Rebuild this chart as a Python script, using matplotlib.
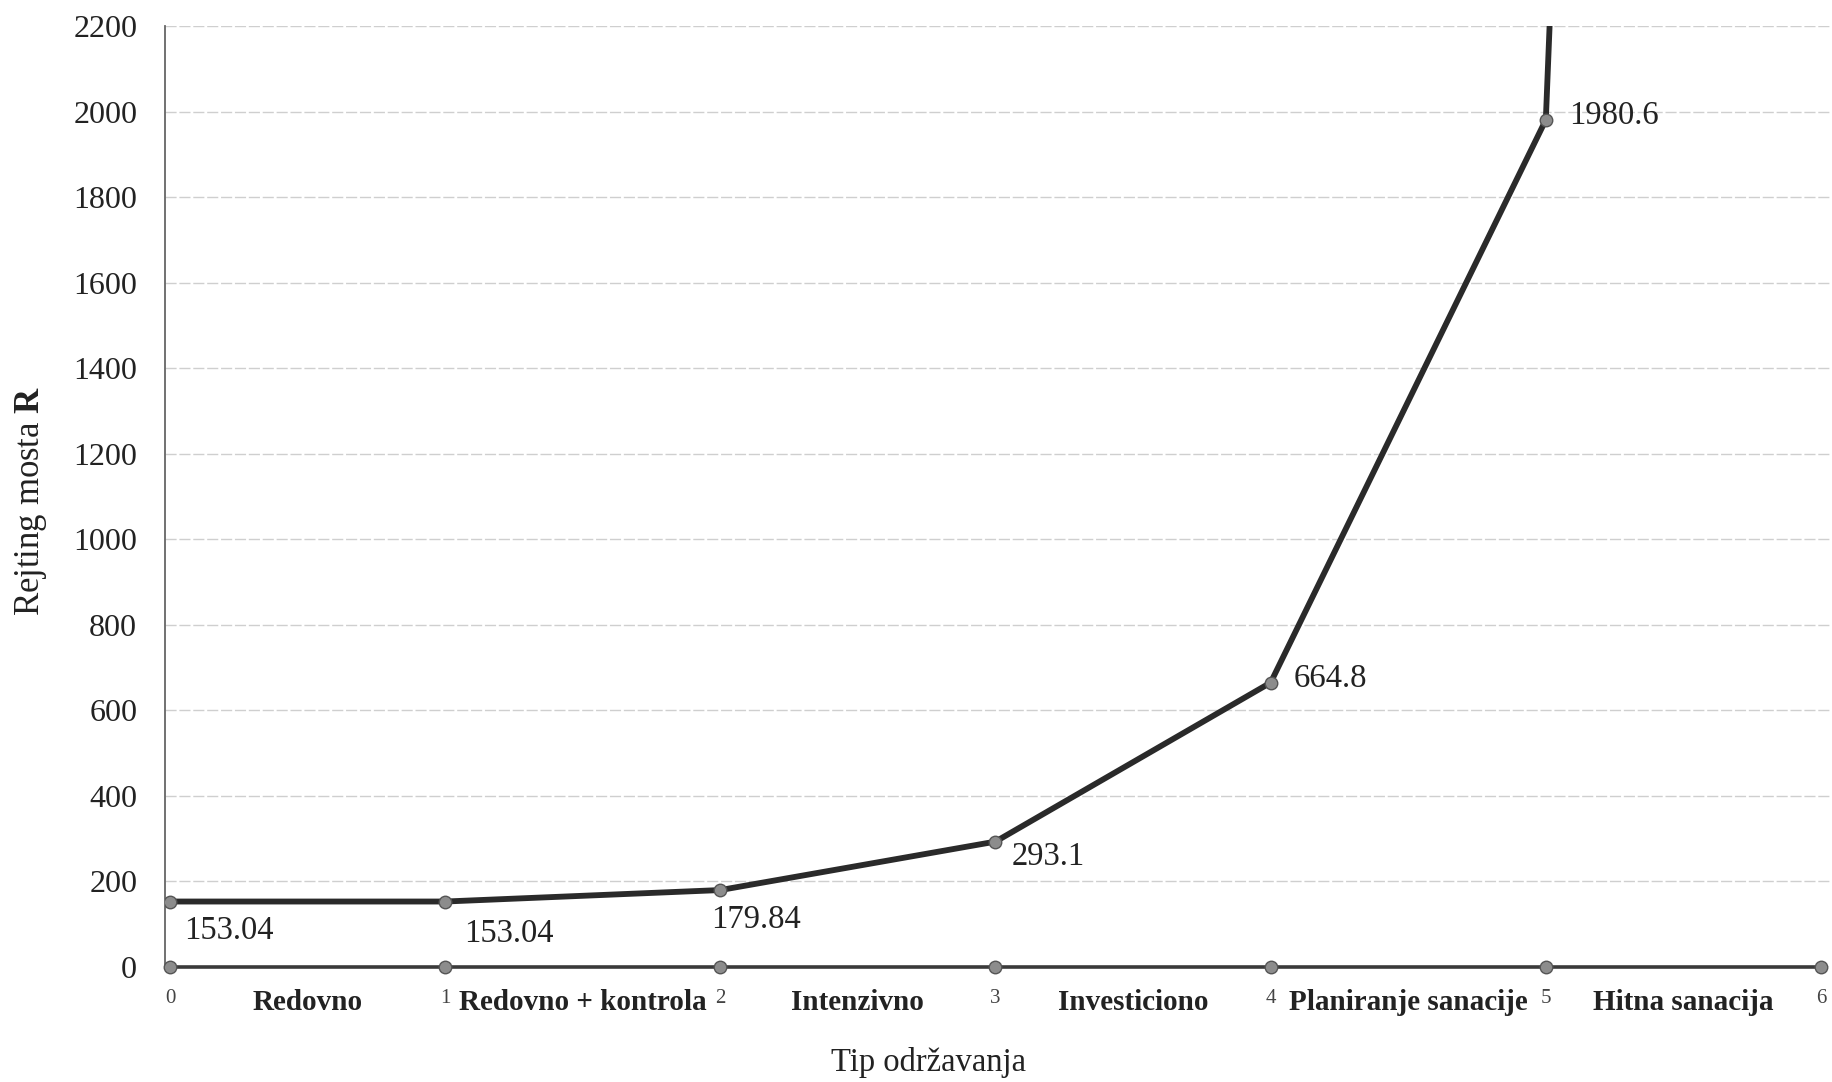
import numpy as np
from matplotlib import pyplot as plt
from matplotlib import transforms

plt.rcParams['font.family'] = ['Liberation Serif', 'DejaVu Serif']
plt.rcParams['mathtext.fontset'] = 'custom'
plt.rcParams['mathtext.rm'] = 'Liberation Serif'
plt.rcParams['mathtext.bf'] = 'Liberation Serif:bold'

# tip odrzavanja (kategorije izmedju tacaka 0..6)
categories = ["Redovno", "Redovno + kontrola", "Intenzivno", "Investiciono",
              "Planiranje sanacije", "Hitna sanacija"]
x = [0, 1, 2, 3, 4, 5, 6]
# rejting mosta R, poslednja vrednost je van grafika (procena)
rating = [153.04, 153.04, 179.84, 293.1, 664.8, 1980.6, 18000]
rating_labels = ["153.04", "153.04", "179.84", "293.1", "664.8", "1980.6"]
base = [0, 0, 0, 0, 0, 0, 0]

fig = plt.figure(figsize=(18.32, 10.82), dpi=100)
ax = fig.add_axes([165/1832, 0.1063, (1832-165)/1832, 0.976-0.1063])

ax.plot(x, base, color='#3a3a3a', lw=2.6, marker='o', markersize=9,
        markerfacecolor='#8c8c8c', markeredgecolor='#555555', markeredgewidth=1,
        clip_on=False, zorder=3)
ax.plot(x, rating, color='#2a2a2a', lw=4.2, marker='o', markersize=9,
        markerfacecolor='#8c8c8c', markeredgecolor='#555555', markeredgewidth=1,
        zorder=4)

# polozaj oznaka (pikseli od tacke)
offs = [(14, -29), (19, -32), (-9, -30), (16, -15), (23, 4), (23, 4)]
for i in range(len(rating_labels)):
    dx, dy = offs[i]
    ax.annotate(rating_labels[i], (x[i], rating[i]), xytext=(dx, dy),
                textcoords='offset pixels', ha='left', va='center',
                fontsize=23.5, color='#222222', zorder=5)

ax.set_xlim(-0.018, 6.04)
ax.set_ylim(0, 2200)
ax.set_yticks(np.arange(0, 2201, 200))
ax.tick_params(axis='y', length=0, pad=20, labelsize=23, labelcolor='#222222')
ax.set_xticks(x)
ax.set_xticklabels([str(v) for v in x])
ax.tick_params(axis='x', length=0, pad=16, labelsize=15, labelcolor='#444444')

ax.yaxis.grid(True, color='#cfcfcf', lw=1.0, dashes=(8, 2))
ax.set_axisbelow(True)
for s in ['top', 'right', 'bottom']:
    ax.spines[s].set_visible(False)
ax.spines['left'].set_color('#666666')
ax.spines['left'].set_linewidth(1.3)

trans = transforms.blended_transform_factory(ax.transData, ax.transAxes)
for i, c in enumerate(categories):
    ax.text(i + 0.5, -0.038, c, transform=trans, ha='center', va='center',
            fontsize=21, fontweight='bold', color='#222222')

fig.text(929/1832, 0.0176, "Tip održavanja", ha='center', va='center',
         fontsize=23.5, color='#222222')
fig.text(0.017, 0.537, r"Rejting mosta $\mathbf{R}$", ha='center', va='center',
         rotation=90, fontsize=25, color='#222222')

plt.savefig("out.png", dpi=100)
